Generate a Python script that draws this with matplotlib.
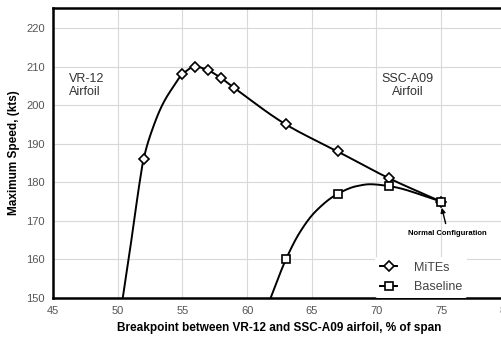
#Maximum speed vs. breakpoint between VR-12 and SSC-A09 airfoils

import numpy as np
import matplotlib.pyplot as plt
from matplotlib.lines import Line2D

plt.rcParams['font.family'] = ['Liberation Sans', 'DejaVu Sans']

#Measured points (markers)
mites_x = [52, 55, 56, 57, 58, 59, 63, 67, 71, 75]
mites_y = [186, 208, 210, 209, 207, 204.5, 195, 188, 181, 175]
base_x = [63, 67, 71, 75]
base_y = [160, 177, 179, 175]

#Fitted curves
mites_curve_x = [50.39, 50.84, 51.27, 51.65, 52, 52.75, 53.5, 54.3, 55, 56, 57, 58, 59, 63, 67, 71, 75]
mites_curve_y = [150, 160, 170, 179, 186, 194.4, 200.4, 204.8, 208, 210, 209, 207, 204.5, 195, 188, 181, 175]
base_curve_x = [61.82, 63, 64.09, 65.25, 67, 68.46, 69.5, 71, 75]
base_curve_y = [150, 160, 167.1, 172.3, 177, 179.0, 179.5, 179, 175]

x_ticks = [45, 50, 55, 60, 65, 70, 75, 80]
y_ticks = [150, 160, 170, 180, 190, 200, 210, 220]

#Monotone cubic (PCHIP) through the traced points, only to draw a smooth line
def smooth_line(xs, ys, n=20):
    x = np.asarray(xs, float)
    y = np.asarray(ys, float)
    h = np.diff(x)
    delta = np.diff(y) / h
    d = np.zeros_like(x)
    for k in range(1, len(x) - 1):
        if delta[k-1]*delta[k] > 0:
            w1 = 2*h[k] + h[k-1]
            w2 = h[k] + 2*h[k-1]
            d[k] = (w1 + w2) / (w1/delta[k-1] + w2/delta[k])
    d[0] = delta[0]
    d[-1] = delta[-1]
    xo, yo = [], []
    for k in range(len(x) - 1):
        t = np.linspace(0, 1, n, endpoint=False)
        h00 = 2*t**3 - 3*t**2 + 1
        h10 = t**3 - 2*t**2 + t
        h01 = -2*t**3 + 3*t**2
        h11 = t**3 - t**2
        xo.append(x[k] + t*h[k])
        yo.append(h00*y[k] + h10*h[k]*d[k] + h01*y[k+1] + h11*h[k]*d[k+1])
    xo.append([x[-1]])
    yo.append([y[-1]])
    return np.concatenate(xo), np.concatenate(yo)

fig = plt.figure(figsize=(5.02, 3.40), dpi=100)
ax = fig.add_axes([0.1056, 0.1235, 0.902, 0.853])

mx, my = smooth_line(mites_curve_x, mites_curve_y)
bx, by = smooth_line(base_curve_x, base_curve_y)
ax.plot(mx, my, color='black', lw=1.4, zorder=3)
ax.plot(bx, by, color='black', lw=1.4, zorder=3)
ax.plot(mites_x, mites_y, 'D', ms=5, mfc='white', mec='black', mew=1.2, zorder=4)
ax.plot(base_x, base_y, 's', ms=5.5, mfc='white', mec='black', mew=1.2, zorder=4)

ax.set_xlim(45, 80)
ax.set_ylim(150, 225.2)
ax.set_xticks(x_ticks)
ax.set_yticks(y_ticks)
ax.tick_params(length=0, labelsize=8, labelcolor='#555555', pad=6)
ax.grid(True, color='#d8d8d8', lw=0.8)
ax.set_axisbelow(True)
for s in ax.spines.values():
    s.set_linewidth(1.8)

ax.set_xlabel('Breakpoint between VR-12 and SSC-A09 airfoil, % of span',
              fontsize=8.5, fontweight='bold', labelpad=4)
ax.set_ylabel('Maximum Speed, (kts)', fontsize=8.5, fontweight='bold', labelpad=4)

ax.text(46.2, 205, 'VR-12\nAirfoil', fontsize=9, color='#333333', ha='left', va='center',
        linespacing=1.1)
ax.text(72.4, 205.2, 'SSC-A09\nAirfoil', fontsize=9, color='#333333', ha='center', va='center',
        linespacing=1.1)

ax.text(75.5, 166.6, 'Normal Configuration', fontsize=5.5, fontweight='bold',
        ha='center', va='center')
ax.annotate('', xy=(75.05, 173.4), xytext=(75.35, 169.3),
            arrowprops=dict(arrowstyle='-|>', color='black', lw=1.0,
                            mutation_scale=7, shrinkA=0, shrinkB=0))

handles = [Line2D([], [], color='black', lw=1.4, marker='D', ms=5, mfc='white', mew=1.2),
           Line2D([], [], color='black', lw=1.4, marker='s', ms=5.5, mfc='white', mew=1.2)]
leg = ax.legend(handles, ['MiTEs', 'Baseline'], loc='lower left',
                bbox_to_anchor=(0.712, 0.0), borderaxespad=0, frameon=True, fontsize=9,
                handlelength=1.3, handletextpad=1.4, labelspacing=0.6)
leg.get_frame().set_edgecolor('none')
leg.get_frame().set_facecolor('white')
leg.get_frame().set_alpha(1)
for t in leg.get_texts():
    t.set_color('#444444')

fig.savefig('out.png', dpi=100)
